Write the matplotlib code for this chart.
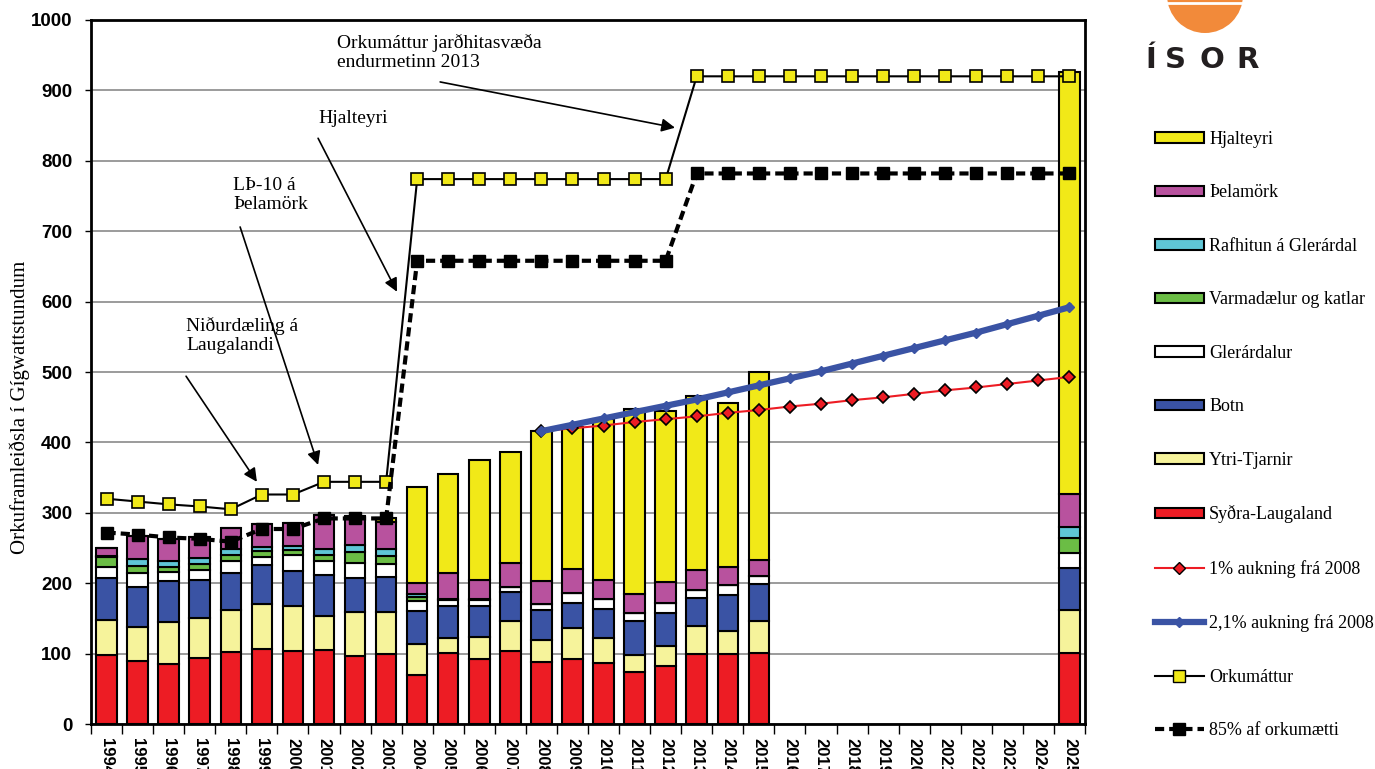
import numpy as np
import matplotlib
matplotlib.use("Agg")
import matplotlib.pyplot as plt
from matplotlib.patches import Wedge
from matplotlib.lines import Line2D
from matplotlib.patches import Patch

# Data (GWh)
years = list(range(1994, 2026))

sydra_laugaland = [98, 90, 85, 94, 102, 106, 104, 105, 96.5, 100, 70, 101, 92, 104, 88.5, 93,
                   86, 74, 83, 99.5, 100, 101, 0, 0, 0, 0, 0, 0, 0, 0, 0, 101]
ytri_tjarnir = [50, 48, 60, 57, 60, 64, 63, 48, 62.5, 59.5, 44, 21, 31, 42, 31.5, 44,
                35.5, 24, 28, 39.5, 32.5, 46, 0, 0, 0, 0, 0, 0, 0, 0, 0, 61]
botn = [60, 57, 58, 53.5, 52, 56, 51, 59, 49, 49.5, 47, 45, 44.5, 42, 42, 35,
        42.5, 49, 47, 39.5, 50.5, 52, 0, 0, 0, 0, 0, 0, 0, 0, 0, 59]
glerardalur = [15, 19, 13, 14.5, 18, 11, 22, 20, 20, 18, 14, 9, 8.5, 7, 9, 13.5,
               13.5, 10, 14, 12.5, 14, 11, 0, 0, 0, 0, 0, 0, 0, 0, 0, 22]
varmadaelur = [14, 11, 7, 8, 8, 9, 7, 8, 16, 11, 6, 2, 1, 0, 0, 0,
               0, 0, 0, 0, 0, 0, 0, 0, 0, 0, 0, 0, 0, 0, 0, 21]
rafhitun = [2, 10, 8.5, 9, 8, 5, 6, 8, 10, 10, 3, 0, 0, 0, 0, 0,
            0, 0, 0, 0, 0, 0, 0, 0, 0, 0, 0, 0, 0, 0, 0, 16]
thelamork = [11, 32, 31.5, 30, 31, 33, 32, 49, 41, 39, 17, 37, 27.5, 33, 32, 34,
             27, 27.5, 30, 27.5, 26, 23, 0, 0, 0, 0, 0, 0, 0, 0, 0, 47]
hjalteyri = [0, 0, 0, 0, 0, 0, 0, 0, 0, 5, 135, 140, 170, 159, 213, 203,
             228.5, 262.5, 243, 247, 232.5, 267, 0, 0, 0, 0, 0, 0, 0, 0, 0, 599]

orkumattur = [320, 316, 312, 309, 305, 326, 326, 344, 344, 344,
              774, 774, 774, 774, 774, 774, 774, 774, 774,
              920, 920, 920, 920, 920, 920, 920, 920, 920, 920, 920, 920, 920]
orkumaetti_85 = [272, 269, 265, 263, 259, 277, 277, 292, 292, 292,
                 658, 658, 658, 658, 658, 658, 658, 658, 658,
                 782, 782, 782, 782, 782, 782, 782, 782, 782, 782, 782, 782, 782]

growth_years = list(range(2008, 2026))
aukning_1 = [416, 420, 424, 429, 433, 437, 442, 446, 451, 455, 460, 464, 469, 474, 478, 483, 488, 493]
aukning_21 = [416, 425, 434, 443, 452, 461, 471, 481, 491, 501, 512, 523, 534, 545, 556, 568, 580, 592]

stack = [
    ("Syðra-Laugaland", sydra_laugaland, "#ED1C24"),
    ("Ytri-Tjarnir", ytri_tjarnir, "#F6F39B"),
    ("Botn", botn, "#3A53A4"),
    ("Glerárdalur", glerardalur, "#FFFFFF"),
    ("Varmadælur og katlar", varmadaelur, "#6BBD45"),
    ("Rafhitun á Glerárdal", rafhitun, "#5FC6D6"),
    ("Þelamörk", thelamork, "#B8529E"),
    ("Hjalteyri", hjalteyri, "#F1E918"),
]

serif = "Liberation Serif"

fig = plt.figure(figsize=(13.75, 7.69), dpi=100)
ax = fig.add_axes([0.0662, 0.0585, 0.7229, 0.9155])

x = np.arange(len(years))
totals = np.sum([v for _, v, _ in stack], axis=0)
has_data = totals > 0
bottom = np.zeros(len(years))
for name, vals, col in stack:
    vals = np.array(vals, dtype=float)
    ax.bar(x[has_data], vals[has_data], 0.66, bottom=bottom[has_data], color=col,
           edgecolor="black", linewidth=1.5, zorder=2)
    bottom += vals

gx = [years.index(y) for y in growth_years]
ax.plot(gx, aukning_1, color="#ED1C24", lw=1.5, marker="D", ms=6.5,
        mfc="#ED1C24", mec="black", mew=1.2, zorder=4)
ax.plot(gx, aukning_21, color="#3A53A4", lw=4.5, marker="D", ms=5,
        mfc="#3A53A4", mec="#3A53A4", zorder=4)
ax.plot(x, orkumattur, color="black", lw=1.5, marker="s", ms=8,
        mfc="#F1E918", mec="black", mew=1.2, zorder=5)
ax.plot(x, orkumaetti_85, color="black", lw=3, ls=(0, (2.2, 1.2)), marker="s", ms=8,
        mfc="black", mec="black", zorder=5)

ax.set_xlim(-0.5, len(years) - 0.5)
ax.set_ylim(0, 1000)
ax.set_yticks(range(0, 1001, 100))
ax.yaxis.grid(True, color="#8a8a8a", lw=1.2)
ax.set_axisbelow(True)
for s in ax.spines.values():
    s.set_linewidth(2)

ax.set_xticks(x)
ax.set_xticklabels([str(y) for y in years], rotation=270, fontweight="bold",
                   fontsize=12, family="Liberation Sans")
ax.set_xticks(np.arange(-0.5, len(years), 1), minor=True)
ax.tick_params(axis="x", which="major", length=0, pad=10)
ax.tick_params(axis="x", which="minor", length=7, width=1, direction="out")
ax.tick_params(axis="y", length=4.5, width=1, direction="out", pad=9)
for lab in ax.get_yticklabels():
    lab.set_fontweight("bold")
    lab.set_fontsize(13.5)
    lab.set_family("Liberation Sans")

ax.set_ylabel("Orkuframleiðsla í Gígwattstundum", family=serif, fontsize=15)
ax.yaxis.set_label_coords(-0.072, 0.45)
ax.yaxis.label.set_va("center")

# annotations
arrow = dict(arrowstyle="-|>", color="black", lw=1.2, mutation_scale=20, shrinkA=0, shrinkB=0)
txt = dict(family=serif, fontsize=14, va="top", ha="left", linespacing=1.12)
ax.annotate("", xy=(18.3, 847), xytext=(10.74, 912), arrowprops=arrow)
ax.text(7.42, 980, "Orkumáttur jarðhitasvæða\nendurmetinn 2013", **txt)
ax.annotate("", xy=(9.35, 614), xytext=(6.81, 832), arrowprops=arrow)
ax.text(6.81, 872, "Hjalteyri", **txt)
ax.annotate("", xy=(6.81, 368), xytext=(4.30, 706), arrowprops=arrow)
ax.text(4.07, 777, "LÞ-10 á\nÞelamörk", **txt)
ax.annotate("", xy=(4.84, 344), xytext=(2.56, 494), arrowprops=arrow)
ax.text(2.56, 578, "Niðurdæling á\nLaugalandi", **txt)

# legend
handles = []
for name, vals, col in reversed(stack):
    handles.append(Patch(facecolor=col, edgecolor="black", linewidth=1.5, label=name))
handles.append(Line2D([], [], color="#ED1C24", lw=1.5, marker="D", ms=6, mfc="#ED1C24",
                      mec="black", label="1% aukning frá 2008"))
handles.append(Line2D([], [], color="#3A53A4", lw=4.5, marker="D", ms=5, mfc="#3A53A4",
                      mec="#3A53A4", label="2,1% aukning frá 2008"))
handles.append(Line2D([], [], color="black", lw=1.5, marker="s", ms=8, mfc="#F1E918",
                      mec="black", label="Orkumáttur"))
handles.append(Line2D([], [], color="black", lw=3, ls=(0, (2.2, 1.2)), marker="s", ms=8,
                      mfc="black", mec="black", label="85% af orkumætti"))
fig.legend(handles=handles, loc="upper left", bbox_to_anchor=(1155 / 1375, 1 - 131 / 769),
           frameon=False, prop={"family": serif, "size": 13}, labelspacing=2.02,
           handlelength=2.7, handleheight=0.5, handletextpad=0.3, borderpad=0,
           borderaxespad=0)

# logo
lax = fig.add_axes([1140 / 1375, 1 - 75 / 769, 130 / 1375, 75 / 769])
lax.set_xlim(1140, 1270)
lax.set_ylim(75, 0)
lax.axis("off")
lax.add_patch(Wedge((1205, -5), 38, 0, 180, facecolor="#F28A3A", edgecolor="none"))
lax.plot([1168, 1242], [3, 3], color="white", lw=2)
for ch, cx in zip("ÍSOR", [1151, 1175.5, 1211.5, 1248]):
    lax.text(cx, 68, ch, ha="center", va="baseline", fontsize=21, fontweight="bold",
             family="DejaVu Sans", color="#231F20")

fig.savefig("out.png", dpi=100)
